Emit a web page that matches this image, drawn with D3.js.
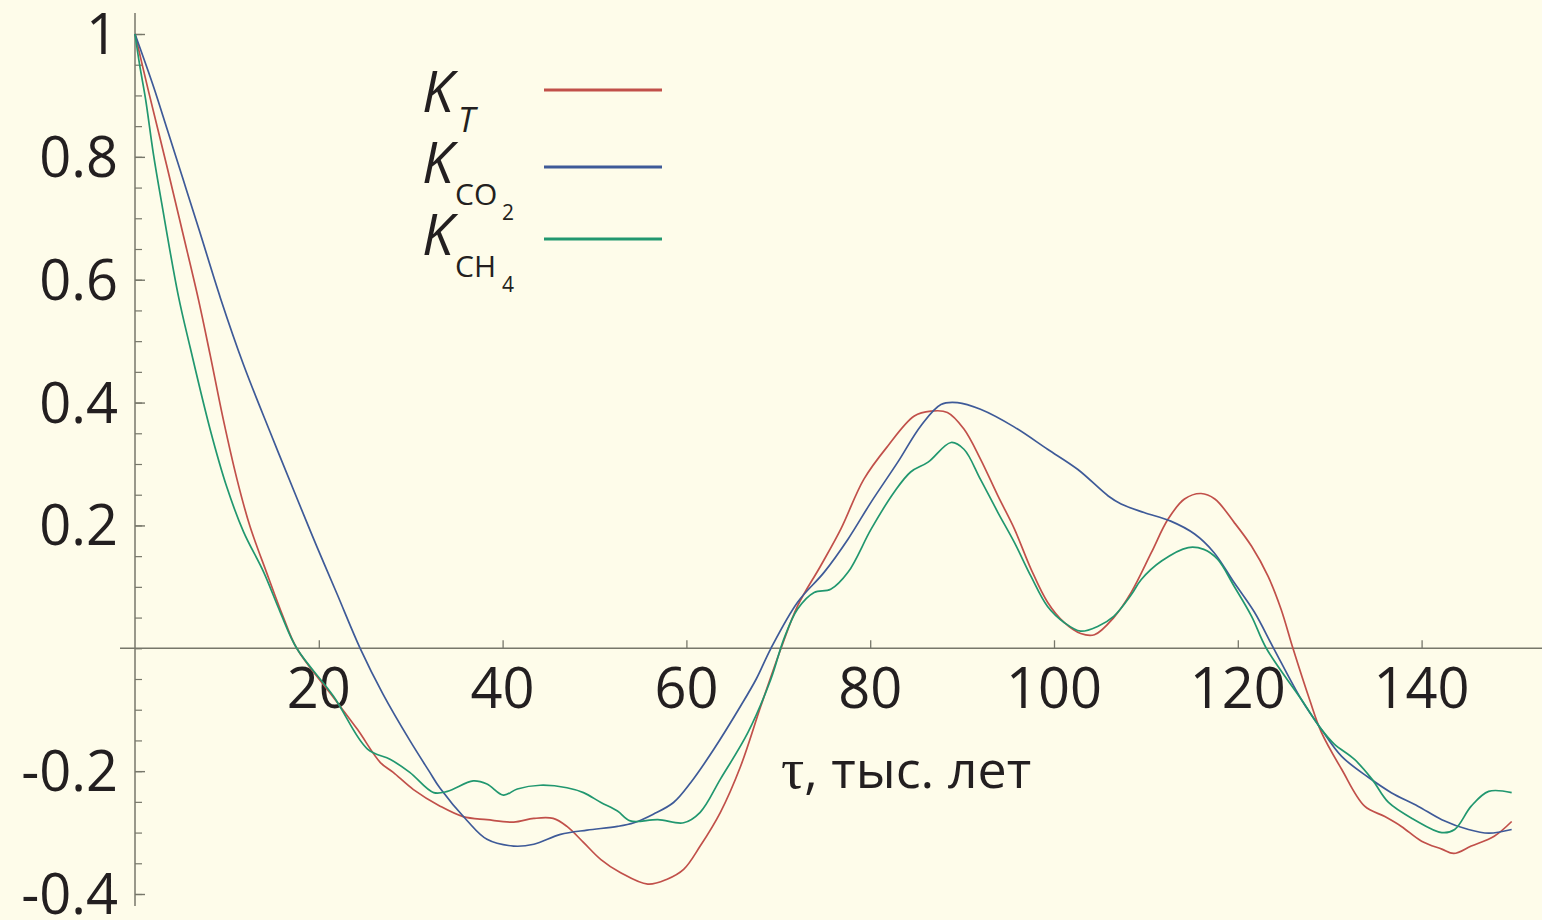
<!DOCTYPE html>
<html>
<head>
<meta charset="utf-8">
<script src="https://cdn.jsdelivr.net/npm/d3@7"></script>
<style>
  html, body { margin: 0; padding: 0; background: #fefcea; }
  svg { display: block; }
</style>
</head>
<body>
<svg id="chart" width="1542" height="920"></svg>
<script>
// ---- data ----
const tauT = [0,1.5,3.45,5.2,6.9,8.2,9.6,11.1,12.5,14.3,16.1,17.6,21.6,24.2,26.7,28.1,30.3,33.2,35.7,38.3,41.2,43.4,45.5,47.0,48.8,50.7,52.8,55.8,57.9,59.7,61.5,63.7,65.9,68.1,70.3,72.1,74.6,76.8,79.3,81.9,84.8,86.6,88.4,90.2,92.0,93.9,95.7,97.5,99.3,101.1,102.9,104.4,106.5,108.4,110.6,112.4,114.2,116,117.5,119.6,121.5,123.3,124.7,126,127.8,129.1,131.3,133.8,136,137.8,140,142.2,143.5,145.4,147.9,149.8];
const kT   = [1.0,0.905,0.786,0.676,0.568,0.476,0.373,0.275,0.199,0.124,0.052,0,-0.080,-0.132,-0.186,-0.202,-0.230,-0.257,-0.274,-0.279,-0.283,-0.277,-0.277,-0.290,-0.316,-0.344,-0.365,-0.384,-0.376,-0.360,-0.322,-0.267,-0.192,-0.094,0,0.069,0.134,0.194,0.275,0.329,0.378,0.386,0.384,0.357,0.308,0.248,0.194,0.129,0.075,0.042,0.024,0.022,0.050,0.091,0.156,0.210,0.243,0.252,0.243,0.205,0.166,0.117,0.064,0,-0.083,-0.137,-0.197,-0.257,-0.274,-0.290,-0.314,-0.327,-0.334,-0.322,-0.306,-0.282];

const tauCO2 = [0,2,3.5,5.2,7,9.3,11.8,14.7,17.6,19.8,22.0,24.5,27.0,29.9,32,33.2,36.1,38.3,41.2,43.4,46.3,49.2,52.5,54.3,56.4,58.6,60.5,63.0,65.9,67.6,69.2,72.1,75,77.6,80.1,83,85.5,87.7,89.5,92.0,95.7,99.3,102.6,105.9,107.3,109.8,112.7,115.3,117.4,119.6,121.8,123.9,126.9,129.1,131.3,134.2,136.7,139.6,142.2,145.1,147.3,149.8];
const kCO2   = [1.0,0.915,0.845,0.765,0.68,0.57,0.462,0.352,0.245,0.165,0.088,0,-0.075,-0.15,-0.2,-0.228,-0.280,-0.311,-0.322,-0.319,-0.303,-0.296,-0.290,-0.284,-0.270,-0.251,-0.218,-0.164,-0.094,-0.05,0,0.075,0.124,0.178,0.238,0.303,0.362,0.397,0.400,0.389,0.360,0.324,0.291,0.248,0.235,0.221,0.207,0.186,0.156,0.107,0.059,0,-0.083,-0.132,-0.176,-0.210,-0.235,-0.257,-0.279,-0.295,-0.301,-0.295];

const tauCH4 = [0,0.5,1.15,2.0,2.9,4.7,6.0,8.2,10.0,11.8,14.0,15.8,17.6,21.6,25.3,27.8,29.9,32.5,34.0,36.8,38.3,40.1,41.6,44.1,47.0,48.8,50.7,52.5,53.9,56.9,59.7,61.5,63.7,66.7,69.2,70.6,72.1,73.9,75.7,77.6,80.1,82.6,84.4,86.3,88.8,90.2,92,93.9,95.7,97.5,99.3,101.1,102.9,104.8,106.5,108.4,109.5,111.7,114.6,116.3,117.8,119.6,121.5,123.1,126.9,129.1,130.5,132.7,134.6,136.4,139.2,142.2,143.6,145.4,147.3,149.8];
const kCH4   = [1.0,0.95,0.894,0.805,0.725,0.575,0.49,0.355,0.262,0.19,0.124,0.059,0,-0.078,-0.164,-0.181,-0.202,-0.235,-0.233,-0.216,-0.221,-0.239,-0.229,-0.223,-0.227,-0.235,-0.251,-0.265,-0.281,-0.279,-0.284,-0.267,-0.213,-0.137,-0.05,0.015,0.064,0.091,0.096,0.124,0.194,0.254,0.287,0.303,0.335,0.324,0.275,0.221,0.172,0.117,0.068,0.042,0.028,0.036,0.052,0.087,0.112,0.142,0.164,0.161,0.145,0.101,0.052,0,-0.083,-0.132,-0.156,-0.181,-0.213,-0.251,-0.279,-0.300,-0.295,-0.257,-0.233,-0.235];

const xTicks = [20,40,60,80,100,120,140];
const yTickValues = [1,0.8,0.6,0.4,0.2,-0.2,-0.4];
const yTickLabels = ["1","0.8","0.6","0.4","0.2","-0.2","-0.4"];
const xAxisLabelSymbol = "τ";
const xAxisLabelText = ", тыс. лет";
const legendMain = ["K","K","K"];
const legendSub = ["T","CO","CH"];
const legendSubSub = ["","2","4"];
const seriesColors = ["#c1504a","#3e5a98","#21976f"];

// ---- drawing ----
const svg = d3.select("#chart");
svg.append("rect").attr("width",1542).attr("height",920).attr("fill","#fefcea");

const x = d3.scaleLinear().domain([0,150]).range([135,1513.5]);
const y = d3.scaleLinear().domain([-0.4,1]).range([894,34]);

const axisColor = "#77776a";
const textColor = "#231f20";
const font = "'Open Sans', sans-serif";

// x axis (through y=0)
const gx = svg.append("g").attr("transform",`translate(0,${y(0)})`)
  .call(d3.axisTop(x).tickValues(xTicks).tickSize(8).tickFormat(""));
gx.select(".domain").remove();
gx.selectAll(".tick line").attr("stroke",axisColor).attr("stroke-width",1.3);
gx.append("line").attr("x1",120).attr("x2",1542).attr("y1",0).attr("y2",0)
  .attr("stroke",axisColor).attr("stroke-width",1.5);
svg.append("g").selectAll("text").data(xTicks).join("text")
  .attr("x",d=>x(d)).attr("y",y(0)+60)
  .attr("text-anchor","middle")
  .attr("font-family",font).attr("font-size",56).attr("fill",textColor)
  .text(d=>d);

// y axis
const minorY = d3.range(-0.4,1.0001,0.05).map(v=>Math.round(v*100)/100);
const gyMinor = svg.append("g").attr("transform",`translate(${x(0)},0)`)
  .call(d3.axisRight(y).tickValues(minorY).tickSize(7).tickFormat(""));
gyMinor.select(".domain").remove();
gyMinor.selectAll(".tick line").attr("stroke",axisColor).attr("stroke-width",1.2);
const gy = svg.append("g").attr("transform",`translate(${x(0)},0)`)
  .call(d3.axisRight(y).tickValues(yTickValues).tickSize(10).tickFormat(""));
gy.select(".domain").remove();
gy.selectAll(".tick line").attr("stroke",axisColor).attr("stroke-width",1.4);
svg.append("line").attr("x1",x(0)).attr("x2",x(0)).attr("y1",13).attr("y2",906)
  .attr("stroke",axisColor).attr("stroke-width",1.5);
svg.append("g").selectAll("text").data(yTickValues).join("text")
  .attr("x",118).attr("y",d=>y(d)+20)
  .attr("text-anchor","end")
  .attr("font-family",font).attr("font-size",56).attr("fill",textColor)
  .text((d,i)=>yTickLabels[i]);

// x axis label
const lab = svg.append("text").attr("x",781).attr("y",788)
  .attr("font-family",font).attr("font-size",52).attr("fill",textColor);
lab.append("tspan").attr("font-family","'Liberation Serif', serif").attr("font-size",58).text(xAxisLabelSymbol);
lab.append("tspan").text(xAxisLabelText);

// curves
const series = [
  {tau: tauT, k: kT},
  {tau: tauCO2, k: kCO2},
  {tau: tauCH4, k: kCH4}
];
const line = d3.line().x(d=>x(d[0])).y(d=>y(d[1])).curve(d3.curveCatmullRom.alpha(0.5));
series.forEach((s,i)=>{
  const pts = s.tau.map((t,j)=>[t,s.k[j]]);
  svg.append("path").datum(pts).attr("d",line)
    .attr("fill","none").attr("stroke",seriesColors[i]).attr("stroke-width",1.7)
    .attr("stroke-linejoin","round");
});

// legend
const legendY = [90,167,239];
legendMain.forEach((m,i)=>{
  const by = legendY[i];
  svg.append("line").attr("x1",544).attr("x2",662).attr("y1",by).attr("y2",by)
    .attr("stroke",seriesColors[i]).attr("stroke-width",3);
  const kBase = [112,183,255][i];
  svg.append("text").attr("x",422).attr("y",kBase)
    .attr("font-family",font).attr("font-style","italic").attr("font-size",56)
    .attr("fill",textColor).text(m);
  if (i===0) {
    svg.append("text").attr("x",458).attr("y",kBase+20)
      .attr("font-family",font).attr("font-style","italic").attr("font-size",34)
      .attr("fill",textColor).text(legendSub[i]);
  } else {
    svg.append("text").attr("x",455).attr("y",kBase+22)
      .attr("font-family",font).attr("font-size",30)
      .attr("fill",textColor).text(legendSub[i]);
    svg.append("text").attr("x",502).attr("y",kBase+37)
      .attr("font-family",font).attr("font-size",21)
      .attr("fill",textColor).text(legendSubSub[i]);
  }
});
</script>
</body>
</html>
